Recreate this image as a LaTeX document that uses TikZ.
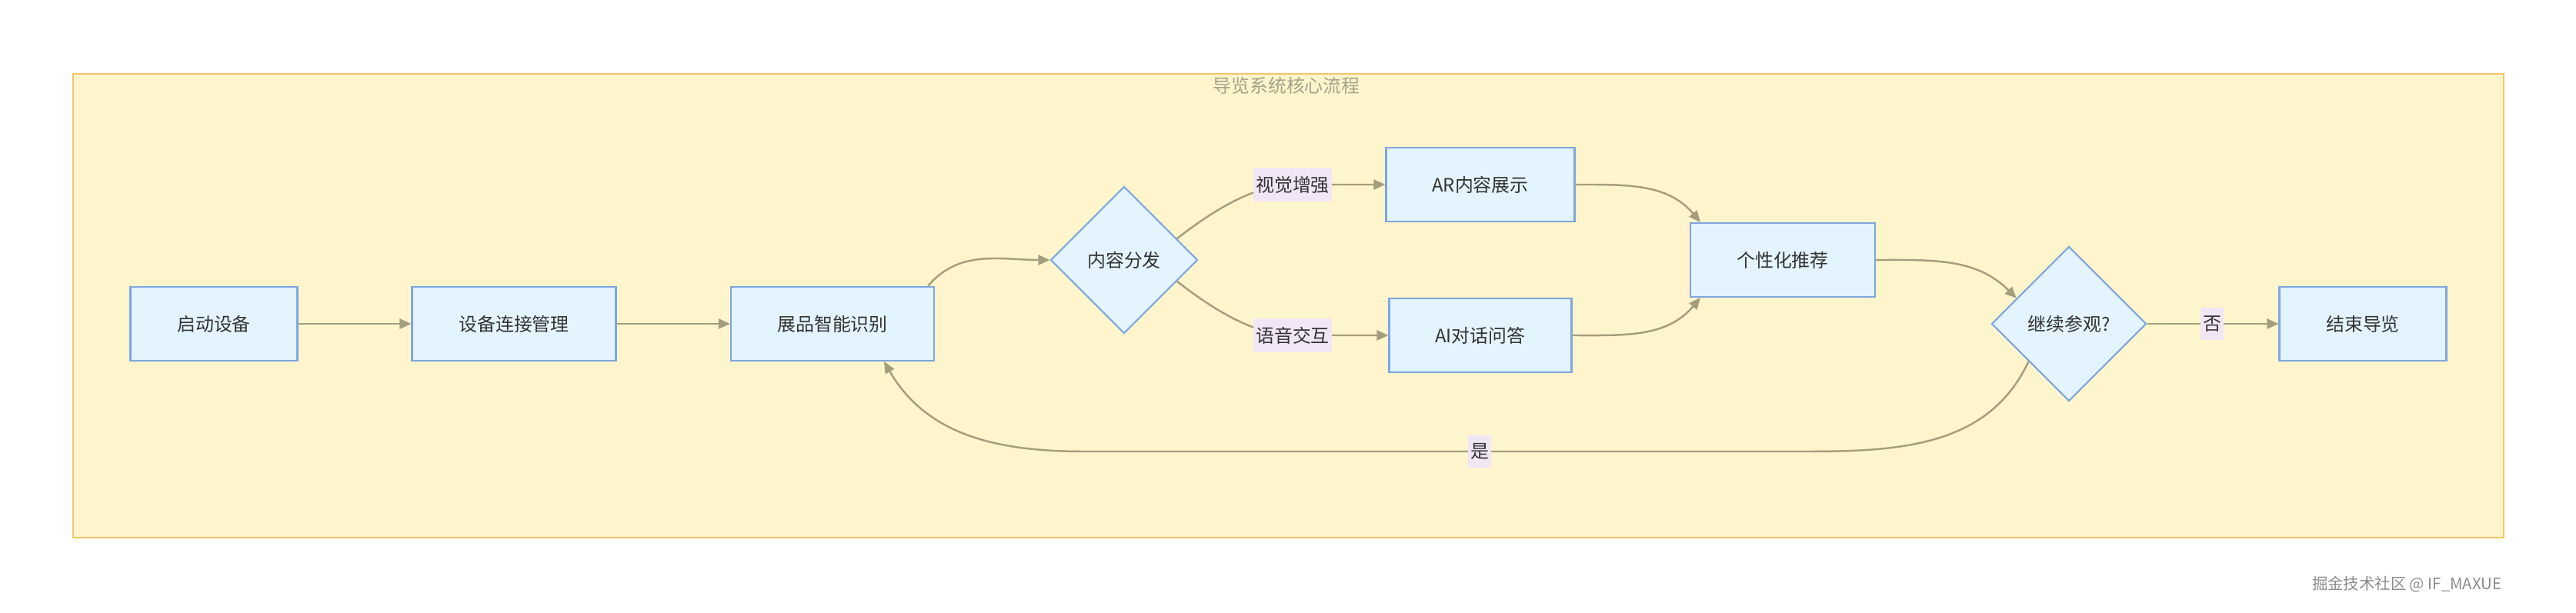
\documentclass[tikz,border=0pt]{standalone}
\usepackage{fontspec}
\setmainfont{Noto Sans CJK SC}
\usepackage{tikz}
\usetikzlibrary{arrows.meta, positioning, calc, shapes.geometric}
\definecolor{gnode}{HTML}{E3F4FE}
\definecolor{gline}{HTML}{7EA6E0}
\definecolor{gedge}{HTML}{A59E7E}
\definecolor{gzone}{HTML}{FFF5CC}
\definecolor{gzoneline}{HTML}{F4C56A}
\definecolor{glab}{HTML}{F0E6F6}
\definecolor{gtitle}{HTML}{A6A28A}
\definecolor{gtext}{HTML}{333333}
\tikzset{
  >={Triangle[length=0.15cm,width=0.13cm]},
  font=\fontsize{6.8}{8}\selectfont,
  proc/.style={
    draw=gline, fill=gnode, line width=0.6pt, text=gtext,
    minimum width=#1, minimum height=0.96cm, inner sep=0pt
  },
  proc/.default=2.17cm,
  choice/.style={
    diamond, aspect=1, draw=gline, fill=gnode, line width=0.6pt, text=gtext,
    minimum width=#1, minimum height=#1, inner sep=0pt
  },
  flow/.style={->, line width=0.7pt, draw=gedge},
  elab/.style={fill=glab, text=gtext, inner xsep=1pt, inner ysep=3pt},
  zone/.style={draw=gzoneline, fill=gzone, line width=0.7pt}
}
\begin{document}
\begin{tikzpicture}
  \useasboundingbox (0,0) rectangle (33.48,-7.97);
  \draw[zone] (0.95,-0.96) rectangle (32.54,-6.99);
  \node[text=gtitle] (title) at (16.72,-1.11) {导览系统核心流程};

  \node[proc] (start) at (2.78,-4.21) {启动设备};
  \node[proc=2.65cm] (link) at (6.68,-4.21) {设备连接管理};
  \node[proc=2.64cm] (recog) at (10.82,-4.21) {展品智能识别};
  \node[choice=1.91cm] (dist) at (14.61,-3.38) {内容分发};
  \node[proc=2.45cm] (arv) at (19.24,-2.40) {AR内容展示};
  \node[proc=2.37cm] (aiqa) at (19.24,-4.36) {AI对话问答};
  \node[proc=2.40cm] (recom) at (23.17,-3.38) {个性化推荐};
  \node[choice=2.01cm] (again) at (26.89,-4.21) {继续参观?};
  \node[proc] (finish) at (30.71,-4.21) {结束导览};

  \coordinate (vis) at (16.80,-2.40);
  \coordinate (voice) at (16.80,-4.36);
  \coordinate (yesr) at (23.45,-5.87);
  \coordinate (yesl) at (14.10,-5.87);
  \coordinate (yes) at (19.23,-5.87);

  \draw[flow] (start.east) -- (link.west);
  \draw[flow] (link.east) -- (recog.west);
  \draw[flow] ([xshift=-0.09cm]recog.north east) to[out=50,in=180] (dist.west);
  \draw[flow] (dist.22) to[out=38,in=180,looseness=0.8] (vis) -- (arv.west);
  \draw[flow] (dist.-22) to[out=-38,in=180,looseness=0.8] (voice) -- (aiqa.west);
  \draw[flow] (arv.east) to[out=0,in=130] ([xshift=0.14cm]recom.north west);
  \draw[flow] (aiqa.east) to[out=0,in=-130] ([xshift=0.14cm]recom.south west);
  \draw[flow] (recom.east) to[out=0,in=135] (again.154);
  \draw[flow] (again.east) -- (finish.west);
  \draw[flow] (again.223) to[out=-115,in=0] (yesr) -- (yesl)
    to[out=180,in=-60] ([xshift=0.67cm]recog.south);

  \node[elab] at (vis) {视觉增强};
  \node[elab] at (voice) {语音交互};
  \node[elab] at (28.75,-4.21) {否};
  \node[elab] at (yes) {是};

  \node[anchor=east, text=black!45, font=\fontsize{5.8}{7}\selectfont] (mark) at (32.64,-7.60) {掘金技术社区 @ IF\_MAXUE};
\end{tikzpicture}
\end{document}
